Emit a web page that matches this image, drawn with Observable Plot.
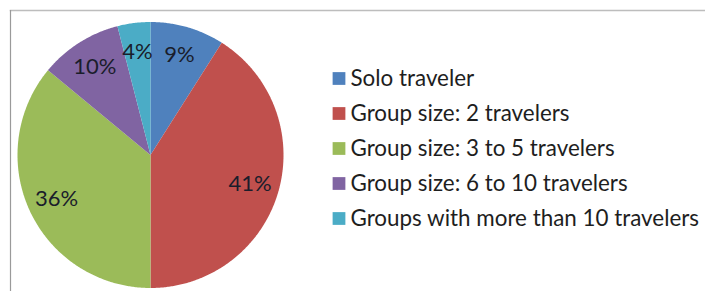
<!DOCTYPE html>
<html>
<head>
<meta charset="utf-8">
<script src="https://cdn.jsdelivr.net/npm/d3@7"></script>
<script src="https://cdn.jsdelivr.net/npm/@observablehq/plot@0.6"></script>
<style>
  html, body { margin: 0; padding: 0; background: #fff; }
  #chart svg { display: block; }
</style>
</head>
<body>
<div id="chart"></div>
<script>
// ---- data ----
const categories = [
  "Solo traveler",
  "Group size: 2 travelers",
  "Group size: 3 to 5 travelers",
  "Group size: 6 to 10 travelers",
  "Groups with more than 10 travelers"
];
const shares = [9, 41, 36, 10, 4];
const shareLabels = ["9%", "41%", "36%", "10%", "4%"];
const colors = ["#4F81BD", "#C0504D", "#9BBB59", "#8064A2", "#4BACC6"];

// ---- layout ----
const W = 705, H = 291;
const cx = 150, cy = 154.5, R = 133;   // pie centre / radius in px
const mL = 10, mT = 10;

const total = d3.sum(shares);
let acc = 0;
const slices = categories.map((c, i) => {
  const a0 = acc / total * 2 * Math.PI;
  acc += shares[i];
  const a1 = acc / total * 2 * Math.PI;
  return {cat: c, a0, a1, label: shareLabels[i], i};
});

// polygon points for each slice (angle from 12 o'clock, clockwise)
const pts = [];
for (const s of slices) {
  pts.push({cat: s.cat, x: 0, y: 0});
  const n = Math.max(2, Math.ceil((s.a1 - s.a0) / (Math.PI / 360)));
  for (let k = 0; k <= n; k++) {
    const a = s.a0 + (s.a1 - s.a0) * k / n;
    pts.push({cat: s.cat, x: Math.sin(a), y: Math.cos(a)});
  }
  pts.push({cat: s.cat, x: 0, y: 0});
}

const labelR = 0.78;
const labelPts = slices.map(s => {
  const m = (s.a0 + s.a1) / 2;
  return {label: s.label, x: labelR * Math.sin(m), y: labelR * Math.cos(m)};
});

// legend rows (data units derived from px layout)
const legendSqX = (338.5 - cx) / R;
const legendTxtX = (350 - cx) / R;
const legend = categories.map((c, i) => ({
  cat: c,
  y: (cy - (78 + i * 35)) / R
}));

const plot = Plot.plot({
  width: W,
  height: H,
  marginLeft: mL, marginTop: mT, marginRight: 0, marginBottom: 0,
  x: {domain: [(mL - cx) / R, (W - cx) / R], axis: null},
  y: {domain: [(cy - H) / R, (cy - mT) / R], axis: null},
  color: {domain: categories, range: colors},
  style: {fontFamily: "Lato, 'Open Sans', sans-serif", background: "#fff", overflow: "hidden"},
  marks: [
    Plot.frame({anchor: "top", stroke: "#bdbdbd", strokeWidth: 1.5, strokeOpacity: 1}),
    Plot.frame({anchor: "left", stroke: "#9a9a9a", strokeWidth: 1.2, strokeOpacity: 1}),
    Plot.line(pts, {x: "x", y: "y", z: "cat", fill: "cat", stroke: "none", curve: "linear"}),
    Plot.text(labelPts, {x: "x", y: "y", text: "label", fontSize: 22, fill: "#1a1d2b"}),
    Plot.dot(legend, {x: () => legendSqX, y: "y", symbol: "square", r: 7.2, fill: "cat", stroke: "none"}),
    Plot.text(legend, {x: () => legendTxtX, y: "y", text: "cat", textAnchor: "start", fontSize: 22.4, fill: "#1e1e1e"})
  ]
});

document.getElementById("chart").appendChild(plot);
</script>
</body>
</html>
